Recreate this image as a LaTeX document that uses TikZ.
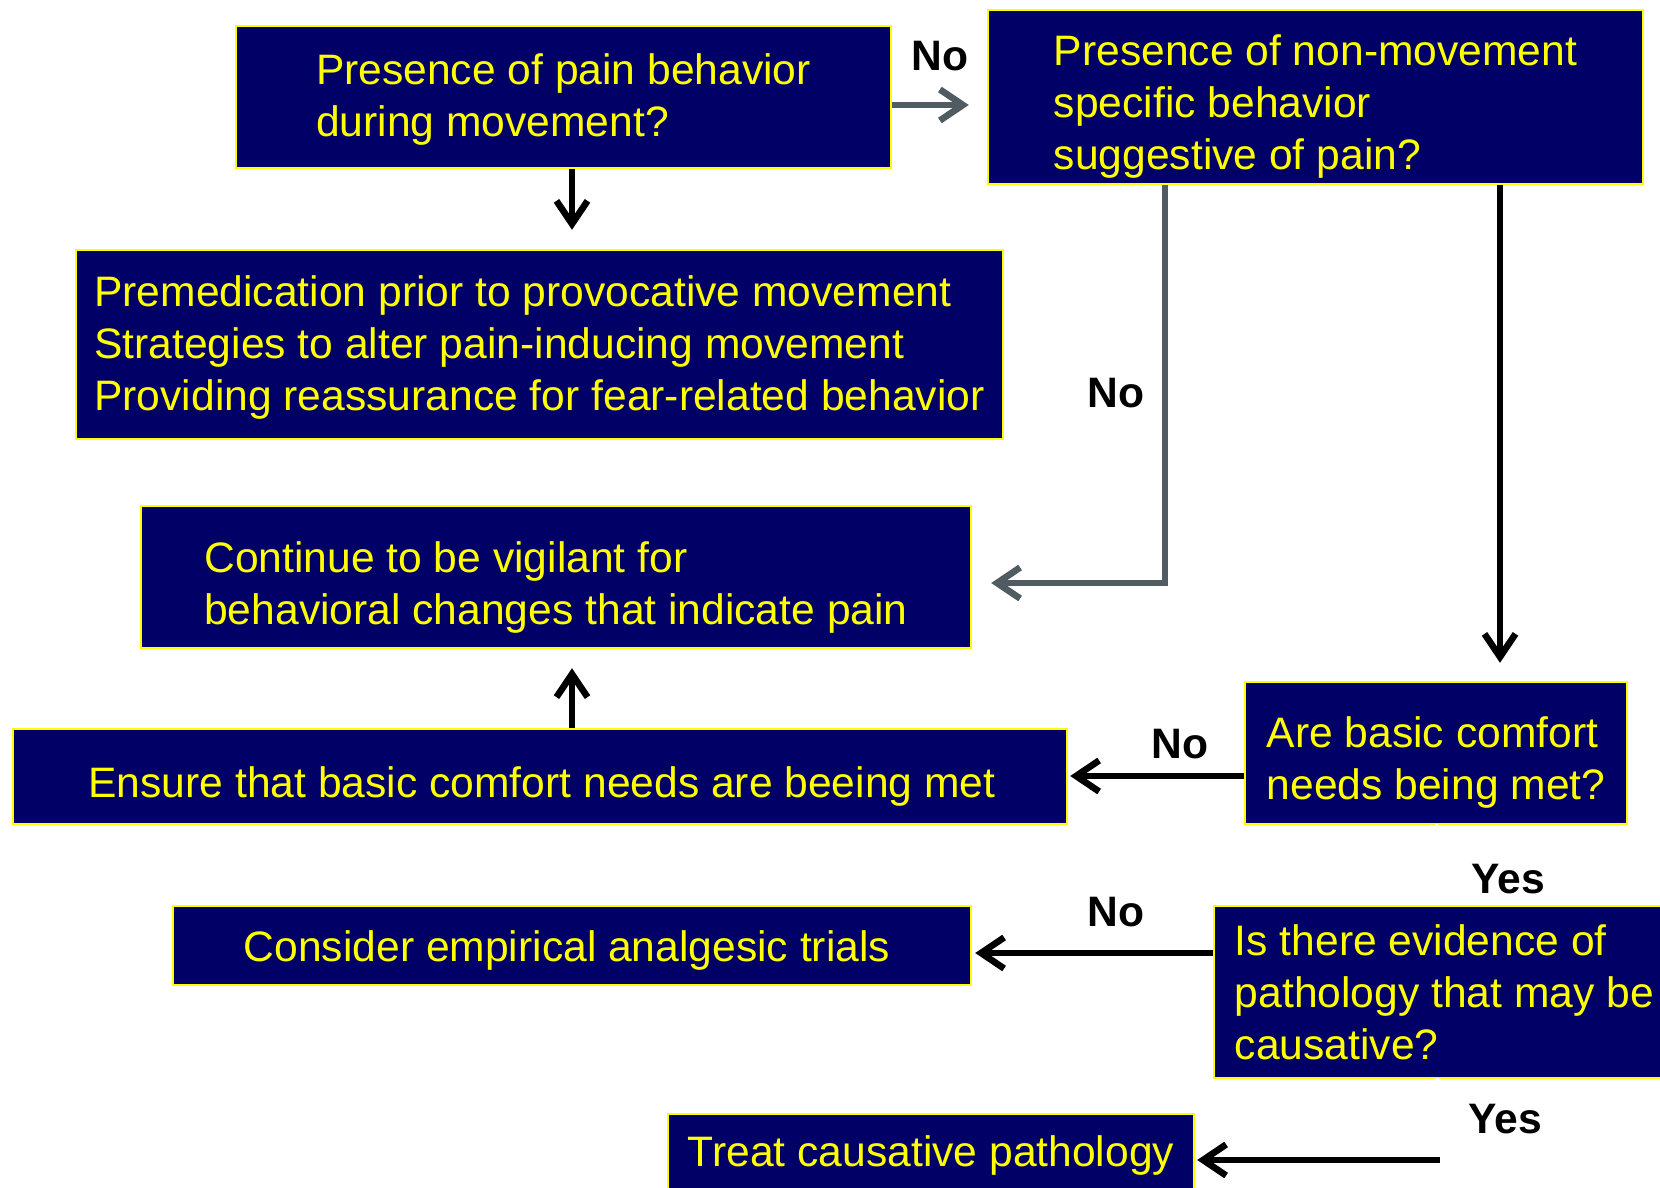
\documentclass[tikz,border=0pt]{standalone}
\usepackage{fontspec}
\setmainfont{Liberation Sans}
\usetikzlibrary{arrows.meta,calc}
\definecolor{navy}{RGB}{0,0,102}
\definecolor{linkgray}{RGB}{80,92,98}
\definecolor{yel}{RGB}{255,255,0}
\begin{document}
\begin{tikzpicture}[x=0.5pt,y=-0.5pt,
  box/.style={draw=yel, fill=navy, line width=1.2pt, inner sep=0pt},
  btext/.style={text=yel, font=\fontsize{21.3pt}{26pt}\selectfont, align=left, inner sep=0pt},
  lab/.style={font=\fontsize{21.3pt}{26pt}\selectfont\bfseries, text=black, inner sep=0pt},
  arr/.style={line width=3.3pt, -{Straight Barb[length=11.5pt,width=15.5pt]}},
  garr/.style={arr, draw=linkgray},
  barr/.style={arr, draw=black},
  hidden/.style={draw=white, line width=1.5pt}]
\useasboundingbox (0,0) rectangle (1660,1188);
\fill[white] (0,0) rectangle (1660,1188);

% boxes
\node[box, minimum width=327.5pt, minimum height=71pt] (b1) at (563.5,97) {};
\node[box, minimum width=327.5pt, minimum height=87pt] (b2) at (1315.5,97) {};
\node[box, minimum width=463.5pt, minimum height=94.5pt] (b3) at (539.5,344.5) {};
\node[box, minimum width=415pt, minimum height=71pt] (b4) at (556,577) {};
\node[box, minimum width=191pt, minimum height=71pt] (b5) at (1436,753) {};
\node[box, minimum width=527pt, minimum height=47.5pt] (b6) at (540,776.5) {};
\node[box, minimum width=230.5pt, minimum height=86pt] (b7) at (1444.5,992) {};
\node[box, minimum width=399pt, minimum height=39.5pt] (b8) at (572,945.5) {};
\node[box, minimum width=263pt, minimum height=39pt] (b9) at (931,1153) {};

% box texts
\node[btext] (t1) at ($(b1)+(0,2)$) {Presence of pain behavior\\during movement?};
\node[btext] (t2) at ($(b2)+(0,10)$) {Presence of non-movement\\specific behavior\\suggestive of pain?};
\node[btext] (t3) at ($(b3)+(0,3)$) {Premedication prior to provocative movement\\Strategies to alter pain-inducing movement\\Providing reassurance for fear-related behavior};
\node[btext] (t4) at ($(b4)+(0,10.5)$) {Continue to be vigilant for\\behavioral changes that indicate pain};
\node[btext] (t5) at ($(b5)+(0,9.5)$) {Are basic comfort\\needs being met?};
\node[btext] (t6) at ($(b6)+(2,9.5)$) {Ensure that basic comfort needs are beeing met};
\node[btext] (t7) at ($(b7)+(0,0.5)$) {Is there evidence of\\pathology that may be\\causative?};
\node[btext] (t8) at ($(b8)+(-5,5)$) {Consider empirical analgesic trials};
\node[btext] (t9) at ($(b9)+(0,2)$) {Treat causative pathology};

% connectors
\draw[garr, shorten >=9pt] ($(b1.east)+(0,8)$) -- ($(b2.west)+(0,8)$);

\coordinate (p1) at ($(b1.south)+(8.5,0)$);
\draw[barr, shorten >=9.5pt] (p1) -- (p1 |- b3.north);

\coordinate (p2) at ($(b2.south)+(-150.5,0)$);
\draw[garr, shorten >=9.5pt] (p2) |- ($(b4.east)+(0,6)$);

\coordinate (p3) at ($(b2.south)+(184.5,0)$);
\draw[barr, shorten >=9pt] (p3) -- (p3 |- b5.north);

\coordinate (p4) at ($(b5.west)+(0,23)$);
\draw[barr, shorten >=1pt] (p4) -- (p4 -| b6.east);

\coordinate (p5) at ($(b6.north)+(32,0)$);
\draw[barr, shorten >=9.5pt] (p5) -- (p5 |- b4.south);

\coordinate (p5s) at ($(b5.south)+(0,-1.5)$);
\draw[hidden, shorten >=3pt] (p5s) -- (p5s |- b7.north);

\coordinate (p6) at ($(b7.west)+(0,-39)$);
\draw[barr, shorten >=1.5pt] (p6) -- (p6 -| b8.east);

\coordinate (c9) at (1440,1160);
\coordinate (p7) at ($(b7.south)+(-7.5,-1.5)$);
\draw[hidden] (p7) -- (p7 |- c9);
\draw[barr, shorten >=1pt] (c9) -- (c9 -| b9.east);

% labels
\node[lab] (n1) at (940,56) {No};
\node[lab] (n2) at (1116,393) {No};
\node[lab] (n3) at (1180,744) {No};
\node[lab] (y1) at (1508,879) {Yes};
\node[lab] (n4) at (1116,912) {No};
\node[lab] (y2) at (1505,1119) {Yes};
\end{tikzpicture}
\end{document}
